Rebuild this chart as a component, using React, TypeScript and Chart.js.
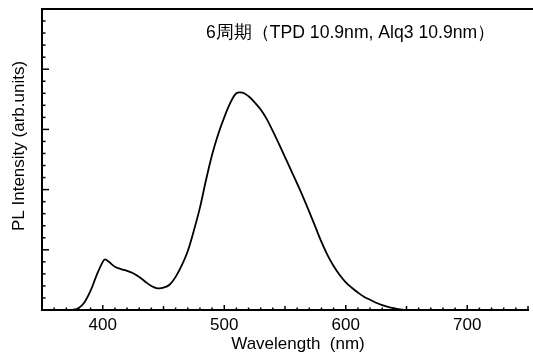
import React, { useEffect, useRef } from "react";
import { Chart, registerables } from "chart.js";

Chart.register(...registerables);

const wavelengths = [
  375, 380, 385, 390, 395, 400, 402, 405, 410, 415, 420, 425, 430, 435, 440, 445, 450, 455, 460, 465,
  470, 475, 480, 485, 490, 495, 500, 505, 510, 515, 520, 525, 530, 535, 540, 545, 550, 555, 560,
  565, 570, 575, 580, 585, 590, 595, 600, 605, 610, 615, 620, 625, 630, 635, 640, 645, 650, 700, 750,
];
const intensity = [
  0, 0.03, 0.13, 0.32, 0.58, 0.8, 0.84, 0.8, 0.72, 0.68, 0.65, 0.61, 0.55, 0.47, 0.4, 0.36, 0.37, 0.42, 0.55, 0.74,
  0.98, 1.32, 1.7, 2.16, 2.58, 2.92, 3.2, 3.44, 3.6, 3.61, 3.55, 3.45, 3.33, 3.17, 2.97, 2.76, 2.54, 2.32, 2.1,
  1.87, 1.63, 1.38, 1.13, 0.91, 0.73, 0.58, 0.46, 0.37, 0.29, 0.22, 0.17, 0.12, 0.08, 0.05, 0.025, 0.01, 0, 0, 0,
];
const xTickLabels = [400, 500, 600, 700];
const annotation = "6周期（TPD 10.9nm, Alq3 10.9nm）";
const xTitle = "Wavelength  (nm)";
const yTitle = "PL Intensity (arb.units)";

const FONT = "'Liberation Sans', Arial, sans-serif";

export default function App() {
  const ref = useRef<HTMLCanvasElement | null>(null);
  useEffect(() => {
    const canvas = ref.current;
    if (!canvas) return;
    const deco = {
      id: "deco",
      afterDraw(chart: any) {
        const ctx = chart.ctx;
        const xs = chart.scales.x;
        const ys = chart.scales.y;
        const a = chart.chartArea;
        ctx.save();
        ctx.strokeStyle = "#000";
        ctx.fillStyle = "#000";
        // top border
        ctx.lineWidth = 2;
        ctx.beginPath();
        ctx.moveTo(a.left - 1, a.top);
        ctx.lineTo(chart.width, a.top);
        ctx.stroke();
        // x ticks (inward)
        ctx.lineWidth = 1.5;
        for (let v = 350; v <= 750; v += 10) {
          const px = xs.getPixelForValue(v);
          const len = v % 100 === 0 ? 5 : v % 50 === 0 ? 4 : 2.5;
          ctx.beginPath();
          ctx.moveTo(px, a.bottom);
          ctx.lineTo(px, a.bottom - len);
          ctx.stroke();
        }
        // y ticks (inward)
        for (let i = 0; i <= 25; i++) {
          const v = i * 0.2;
          const py = ys.getPixelForValue(v);
          const len = i % 5 === 0 ? 7 : 3.5;
          ctx.beginPath();
          ctx.moveTo(a.left, py);
          ctx.lineTo(a.left + len, py);
          ctx.stroke();
        }
        // texts
        ctx.textBaseline = "alphabetic";
        ctx.textAlign = "left";
        ctx.font = `17.6px ${FONT}`;
        ctx.fillText(annotation, 206, 38);
        ctx.font = `17px ${FONT}`;
        ctx.textAlign = "center";
        ctx.fillText(xTitle, 298, 349);
        ctx.translate(24, 146);
        ctx.rotate(-Math.PI / 2);
        ctx.fillText(yTitle, 0, 0);
        ctx.restore();
      },
    };
    const chart = new Chart(canvas, {
      type: "line",
      data: {
        datasets: [
          {
            data: wavelengths.map((w, i) => ({ x: w, y: intensity[i] })),
            borderColor: "#000",
            borderWidth: 1.8,
            pointRadius: 0,
            tension: 0.35,
            fill: false,
          },
        ],
      },
      options: {
        animation: false,
        responsive: false,
        maintainAspectRatio: false,
        events: [],
        layout: { padding: { top: 9, right: 2, left: 0, bottom: 0 } },
        plugins: { legend: { display: false }, tooltip: { enabled: false }, title: { display: false } },
        scales: {
          x: {
            type: "linear",
            min: 350,
            max: 750,
            afterFit: (s: any) => {
              s.height = 43;
            },
            ticks: {
              stepSize: 10,
              autoSkip: false,
              maxRotation: 0,
              padding: 5,
              color: "#000",
              font: { size: 17, family: FONT },
              callback: (v: any) => (xTickLabels.includes(Number(v)) ? String(v) : ""),
            },
            grid: { display: false, drawTicks: false },
            border: { display: true, color: "#000", width: 2 },
          },
          y: {
            type: "linear",
            min: 0,
            max: 5,
            afterFit: (s: any) => {
              s.width = 42;
            },
            ticks: { display: false },
            grid: { display: false, drawTicks: false },
            border: { display: true, color: "#000", width: 2 },
          },
        },
      },
      plugins: [deco],
    } as any);
    return () => chart.destroy();
  }, []);
  return (
    <div style={{ position: "fixed", left: 0, top: 0, width: 533, height: 353, background: "#fff" }}>
      <canvas ref={ref} width={533} height={353} style={{ width: 533, height: 353 }} />
    </div>
  );
}
